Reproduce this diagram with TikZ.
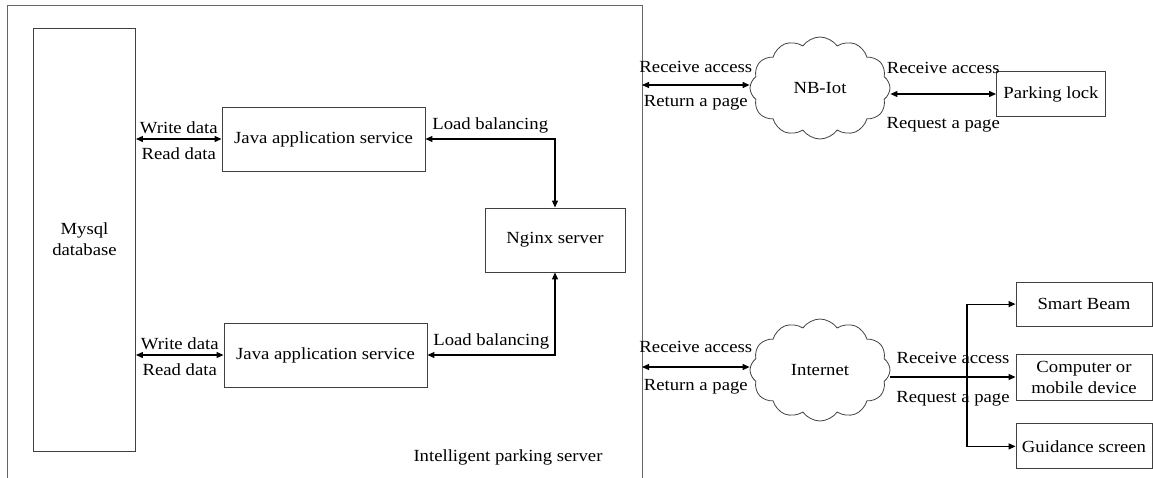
\documentclass[tikz,border=0pt]{standalone}
\usepackage{fontspec}
\setmainfont[FakeStretch=1.1]{Liberation Serif}
\usetikzlibrary{arrows.meta,positioning,shapes.symbols}
\newcommand{\lbfont}{\fontsize{17}{21}\selectfont}
\tikzset{
  box/.style={draw=black!75, line width=0.9pt, fill=white, align=center,
              font=\lbfont, inner sep=3pt},
  cloudbox/.style={cloud, cloud puffs=12, cloud puff arc=110, cloud ignores aspect,
              draw=black!75, line width=0.8pt, minimum width=140pt, minimum height=102pt,
              font=\lbfont},
  both/.style={{Triangle[length=7pt,width=6pt]}-{Triangle[length=7pt,width=6pt]}, line width=1.1pt},
  flow/.style={-{Triangle[length=7pt,width=6pt]}, line width=1.1pt},
  lbl/.style={font=\lbfont, inner sep=1pt},
}

\begin{document}
\begin{tikzpicture}[x=1pt, y=-1pt, node distance=27pt]
  \useasboundingbox (0,0) rectangle (1153,477);
  % server frame (open at the bottom)
  \draw[draw=black!60, line width=0.9pt] (7,490) |- (642,5) -- (642,490);
  \coordinate (nbin) at (642,85);
  \coordinate (inin) at (642,367);

  \node[box, minimum width=102pt, minimum height=423pt] (db) at (84.5,239.5) {Mysql\\database};
  \node[box, minimum width=203pt, minimum height=64pt] (java1) at (323.5,139) {Java application service};
  \node[box, minimum width=203pt, minimum height=64pt] (java2) at (325.5,355) {Java application service};
  \node[box, minimum width=140pt, minimum height=64pt] (nginx) at (555,240) {Nginx server};
  \node[lbl] (title) at (508,457) {Intelligent parking server};

  \draw[both] (db.east |- java1.west) -- node[lbl,above=4pt]{Write data} node[lbl,below=7pt]{Read data} (java1.west);
  \draw[both] (db.east |- java2.west) -- node[lbl,above=4pt]{Write data} node[lbl,below=7pt]{Read data} (java2.west);
  \draw[both] (java1.east) -| node[lbl,above=4pt,pos=0.25]{Load balancing} (nginx.north);
  \draw[both] (nginx.south) |- node[lbl,above=4pt,pos=0.75]{Load balancing} (java2.east);

  % NB-Iot branch
  \node[cloudbox] (nbiot) at (820,88) {NB-Iot};
  \node[box, minimum width=109pt, minimum height=45pt] (lock) at (1051,94) {Parking lock};
  \draw[both] (nbin) -- node[lbl,above=11pt]{Receive access} node[lbl,below=9pt]{Return a page} (nbin -| nbiot.west);
  \draw[both] (nbiot.east |- lock.west) -- node[lbl,above=19pt]{Receive access} node[lbl,below=22pt]{Request a page} (lock.west);

  % Internet branch
  \node[cloudbox] (inet) at (820,370) {Internet};
  \node[box, minimum width=136pt, minimum height=46pt] (comp) at (1084,377) {Computer or\\mobile device};
  \node[box, minimum width=136pt, minimum height=44pt, above=of comp] (beam) {Smart Beam};
  \node[box, minimum width=136pt, minimum height=45pt, below=23pt of comp] (guide) {Guidance screen};
  \draw[both] (inin) -- node[lbl,above=13pt]{Receive access} node[lbl,below=11pt]{Return a page} (inin -| inet.west);
  \draw[flow] (inet.east |- comp.west) -- node[lbl,above=12pt]{Receive access} node[lbl,below=13pt]{Request a page} (comp.west);
  \coordinate (split) at (967,377);
  \draw[flow] (split) |- (beam.west);
  \draw[flow] (split) |- (guide.west);
\end{tikzpicture}
\end{document}
